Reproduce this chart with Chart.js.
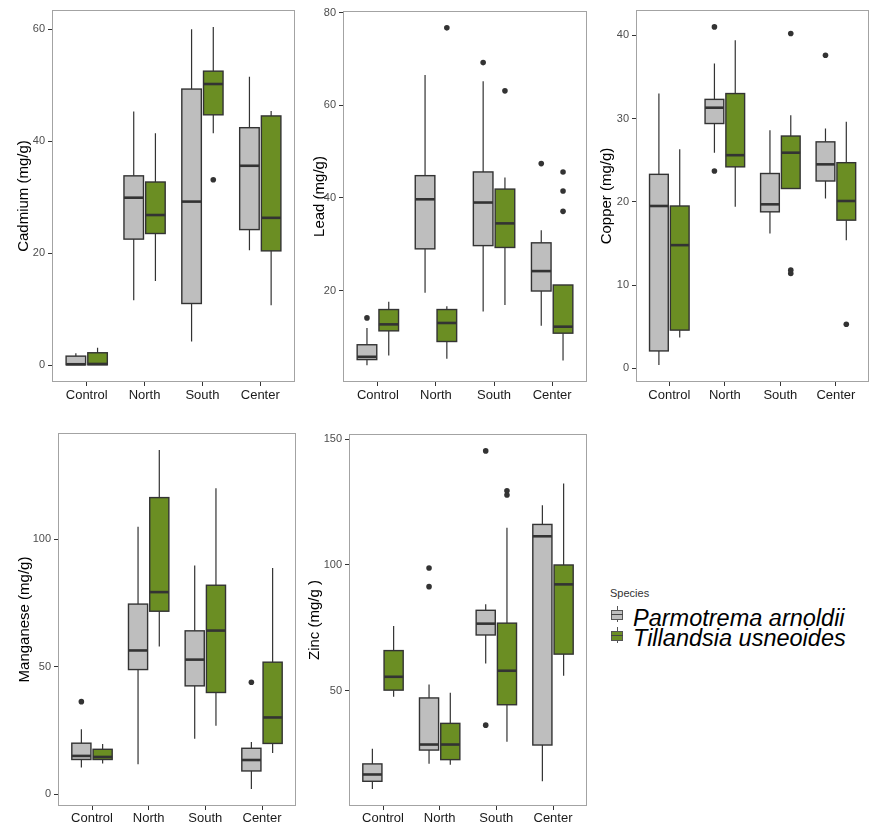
<!DOCTYPE html>
<html>
<head>
<meta charset="utf-8">
<script src="https://cdn.jsdelivr.net/npm/chart.js"></script>
<style>
  html, body { margin: 0; padding: 0; background: #ffffff; }
  #page { position: relative; width: 872px; height: 825px; background: #ffffff; overflow: hidden;
          font-family: 'Liberation Sans', Arial, sans-serif; }
  #page canvas { position: absolute; }
  .legend-title { position: absolute; left: 610px; top: 588px; font-size: 11px; line-height: 11px; color: #333333; }
  .legend-label { position: absolute; left: 633px; font-size: 23.5px; line-height: 23px; font-style: italic; color: #000000; white-space: nowrap; }
  .key { position: absolute; left: 611px; width: 12px; height: 16px; }
  .key .whisker { position: absolute; left: 5.5px; top: 0; width: 1px; height: 16px; background: #555555; }
  .key .box { position: absolute; left: 0; top: 3.5px; width: 10px; height: 8px; border: 1px solid #555555; }
  .key .median { position: absolute; left: 0; top: 7.5px; width: 12px; height: 1.2px; background: #444444; }
</style>
</head>
<body>
<div id="page">
  <canvas id="cadmium"></canvas>
  <canvas id="lead"></canvas>
  <canvas id="copper"></canvas>
  <canvas id="manganese"></canvas>
  <canvas id="zinc"></canvas>

  <div class="legend-title">Species</div>
  <div class="key" style="top:606px"><div class="whisker"></div><div class="box" style="background:#BEBEBE"></div><div class="median"></div></div>
  <div class="legend-label" style="top:607px">Parmotrema arnoldii</div>
  <div class="key" style="top:627px"><div class="whisker"></div><div class="box" style="background:#6B8E23"></div><div class="median"></div></div>
  <div class="legend-label" style="top:627px">Tillandsia usneoides</div>
</div>

<script>
// Sampling sites (x categories) and the two species
const categories = ['Control', 'North', 'South', 'Center'];
const speciesNames = ['Parmotrema arnoldii', 'Tillandsia usneoides'];

// Box statistics per site: [lower whisker, Q1, median, Q3, upper whisker]
const cadmiumParmotrema = [[0.0, 0.05, 0.15, 1.6, 2.1], [11.6, 22.5, 29.9, 33.8, 45.3], [4.2, 11.0, 29.2, 49.3, 60.0], [20.5, 24.2, 35.6, 42.4, 51.5]];
const cadmiumTillandsia = [[0.0, 0.05, 0.2, 2.2, 3.1], [15.0, 23.5, 26.8, 32.7, 41.4], [41.4, 44.7, 50.2, 52.5, 60.4], [10.7, 20.4, 26.3, 44.5, 45.4]];
const cadmiumParmotremaOut = [[], [], [], []];
const cadmiumTillandsiaOut = [[], [], [33.1], []];
const cadmiumTicks = [0, 20, 40, 60];

const leadParmotrema = [[3.9, 5.1, 5.7, 8.3, 11.9], [19.5, 29.0, 39.7, 44.8, 66.5], [15.5, 29.7, 39.0, 45.6, 65.2], [12.4, 19.9, 24.2, 30.3, 33.0]];
const leadTillandsia = [[6.0, 11.3, 12.7, 15.9, 17.6], [5.3, 9.0, 13.0, 15.9, 16.6], [16.9, 29.3, 34.5, 41.9, 44.4], [4.9, 10.8, 12.2, 21.2, 21.2]];
const leadParmotremaOut = [[14.1], [], [69.2], [47.4]];
const leadTillandsiaOut = [[], [76.7], [63.1], [45.6, 41.5, 37.1]];
const leadTicks = [20, 40, 60, 80];

const copperParmotrema = [[0.4, 2.1, 19.5, 23.3, 33.0], [25.9, 29.4, 31.3, 32.3, 36.6], [16.2, 18.8, 19.7, 23.4, 28.6], [20.4, 22.5, 24.5, 27.2, 28.8]];
const copperTillandsia = [[3.7, 4.6, 14.8, 19.5, 26.3], [19.4, 24.2, 25.6, 33.0, 39.4], [21.6, 21.6, 25.9, 27.9, 30.4], [15.4, 17.8, 20.1, 24.7, 29.6]];
const copperParmotremaOut = [[], [41.0, 23.7], [], [37.6]];
const copperTillandsiaOut = [[], [], [40.2, 11.8, 11.4], [5.3]];
const copperTicks = [0, 10, 20, 30, 40];

const manganeseParmotrema = [[10.5, 13.6, 15.0, 20.0, 25.5], [11.7, 48.9, 56.4, 74.6, 105.0], [21.7, 42.5, 52.8, 64.1, 89.7], [2.0, 9.1, 13.4, 18.0, 20.5]];
const manganeseTillandsia = [[12.0, 13.6, 14.6, 17.6, 19.7], [58.0, 71.8, 79.3, 116.4, 135.1], [26.8, 39.9, 64.2, 82.0, 120.1], [16.1, 19.9, 30.1, 51.8, 88.8]];
const manganeseParmotremaOut = [[36.3], [], [], [43.9]];
const manganeseTillandsiaOut = [[], [], [], []];
const manganeseTicks = [0, 50, 100];

const zincParmotrema = [[11.0, 14.1, 16.8, 21.0, 27.0], [21.1, 26.5, 28.7, 47.2, 52.5], [60.9, 72.2, 76.7, 82.0, 84.4], [14.1, 28.5, 111.4, 116.1, 123.7]];
const zincTillandsia = [[47.7, 50.3, 55.6, 66.0, 75.8], [20.7, 22.7, 28.7, 37.1, 49.3], [29.8, 44.5, 58.0, 76.9, 114.8], [56.0, 64.6, 92.3, 100.0, 132.4]];
const zincParmotremaOut = [[], [98.8, 91.4], [145.3, 36.4], []];
const zincTillandsiaOut = [[], [], [129.5, 127.8], []];
const zincTicks = [50, 100, 150];

// Styling
const FILLS = ['#BEBEBE', '#6B8E23'];
const LINE = '#333333';
const DODGE = 0.1875;      // half distance between the two boxes of a site (x units)
const BOX_WIDTH = 0.3375;  // box width (x units)

// Panel placement on the page
const panels = [
  { id: 'cadmium',   title: 'Cadmium (mg/g)', stats: [cadmiumParmotrema, cadmiumTillandsia], out: [cadmiumParmotremaOut, cadmiumTillandsiaOut], ticks: cadmiumTicks,
    left: 0,   top: 0,   width: 300, height: 410, axisW: 52, padTop: 10, padRight: 5, xH: 28, titlePad: 15, xPad: 2 },
  { id: 'lead',      title: 'Lead (mg/g)', stats: [leadParmotrema, leadTillandsia], out: [leadParmotremaOut, leadTillandsiaOut], ticks: leadTicks,
    left: 295, top: 0,   width: 297, height: 410, axisW: 48, padTop: 11, padRight: 5, xH: 28, titlePad: 16, xPad: 2 },
  { id: 'copper',    title: 'Copper (mg/g)', stats: [copperParmotrema, copperTillandsia], out: [copperParmotremaOut, copperTillandsiaOut], ticks: copperTicks,
    left: 588, top: 0,   width: 284, height: 410, axisW: 48, padTop: 10, padRight: 2, xH: 28, titlePad: 10, xPad: 2 },
  { id: 'manganese', title: 'Manganese (mg/g)', stats: [manganeseParmotrema, manganeseTillandsia], out: [manganeseParmotremaOut, manganeseTillandsiaOut], ticks: manganeseTicks,
    left: 0,   top: 420, width: 300, height: 405, axisW: 58, padTop: 13, padRight: 4, xH: 19, titlePad: 16, xPad: 1 },
  { id: 'zinc',      title: 'Zinc (mg/g )', stats: [zincParmotrema, zincTillandsia], out: [zincParmotremaOut, zincTillandsiaOut], ticks: zincTicks,
    left: 295, top: 420, width: 297, height: 405, axisW: 54, padTop: 14, padRight: 5, xH: 19, titlePad: 11, xPad: 1 }
];

Chart.defaults.font.family = "'Liberation Sans', Arial, sans-serif";

// Boxes, whiskers and medians drawn through the chart's scales; panel frame on top
const boxPlotPlugin = {
  id: 'boxPlot',
  beforeDatasetsDraw(chart) {
    const { ctx, scales: { x, y } } = chart;
    ctx.save();
    chart.data.datasets.forEach(ds => {
      ds.stats.forEach((s, i) => {
        const pos = i + 1 + ds.dodge;
        const cx = x.getPixelForValue(pos);
        const x0 = x.getPixelForValue(pos - BOX_WIDTH / 2);
        const x1 = x.getPixelForValue(pos + BOX_WIDTH / 2);
        const [lo, q1, med, q3, hi] = s.map(v => y.getPixelForValue(v));
        // whiskers
        ctx.strokeStyle = LINE;
        ctx.lineWidth = 1.2;
        ctx.beginPath();
        ctx.moveTo(cx, hi); ctx.lineTo(cx, q3);
        ctx.moveTo(cx, q1); ctx.lineTo(cx, lo);
        ctx.stroke();
        // box
        ctx.fillStyle = ds.boxColor;
        ctx.fillRect(x0, q3, x1 - x0, q1 - q3);
        ctx.lineWidth = 1.4;
        ctx.strokeRect(x0, q3, x1 - x0, q1 - q3);
        // median
        ctx.lineWidth = 2.6;
        ctx.beginPath();
        ctx.moveTo(x0, med); ctx.lineTo(x1, med);
        ctx.stroke();
      });
    });
    ctx.restore();
  },
  afterDraw(chart) {
    const { ctx, chartArea: a } = chart;
    ctx.save();
    ctx.strokeStyle = '#a3a3a3';
    ctx.lineWidth = 1;
    ctx.strokeRect(Math.round(a.left) + 0.5, Math.round(a.top) + 0.5,
                   Math.round(a.right - a.left) - 1, Math.round(a.bottom - a.top) - 1);
    ctx.restore();
  }
};

panels.forEach(p => {
  const canvas = document.getElementById(p.id);
  canvas.width = p.width;
  canvas.height = p.height;
  canvas.style.left = p.left + 'px';
  canvas.style.top = p.top + 'px';
  canvas.style.width = p.width + 'px';
  canvas.style.height = p.height + 'px';

  // y range: data extent plus 5% on both sides
  const all = [];
  p.stats.forEach(st => st.forEach(s => all.push(s[0], s[4])));
  p.out.forEach(o => o.forEach(list => list.forEach(v => all.push(v))));
  const dMin = Math.min(...all), dMax = Math.max(...all);
  const pad = (dMax - dMin) * 0.05;

  const datasets = [0, 1].map(k => ({
    type: 'scatter',
    label: speciesNames[k],
    stats: p.stats[k],
    dodge: k === 0 ? -DODGE : DODGE,
    boxColor: FILLS[k],
    data: p.out[k].flatMap((list, i) => list.map(v => ({ x: i + 1 + (k === 0 ? -DODGE : DODGE), y: v }))),
    pointRadius: 2.8,
    pointHoverRadius: 2.8,
    pointBackgroundColor: LINE,
    pointBorderWidth: 0,
    showLine: false
  }));

  new Chart(canvas, {
    type: 'scatter',
    data: { datasets },
    options: {
      responsive: false,
      animation: false,
      events: [],
      layout: { padding: { left: 0, top: p.padTop, right: p.padRight, bottom: 0 } },
      plugins: { legend: { display: false }, tooltip: { enabled: false } },
      scales: {
        x: {
          type: 'linear',
          min: 0.4,
          max: 4.6,
          afterBuildTicks: s => { s.ticks = categories.map((c, i) => ({ value: i + 1 })); },
          afterFit: s => { s.height = p.xH; },
          grid: { display: true, drawOnChartArea: false, drawTicks: true, tickLength: 4, tickColor: '#333333', color: '#333333' },
          border: { display: false },
          ticks: {
            callback: v => categories[Math.round(v) - 1],
            color: '#1a1a1a',
            font: { size: 13 },
            padding: p.xPad,
            maxRotation: 0,
            autoSkip: false
          }
        },
        y: {
          type: 'linear',
          min: dMin - pad,
          max: dMax + pad,
          afterBuildTicks: s => { s.ticks = p.ticks.map(v => ({ value: v })); },
          afterFit: s => { s.width = p.axisW; },
          grid: { display: true, drawOnChartArea: false, drawTicks: true, tickLength: 4, tickColor: '#333333', color: '#333333' },
          border: { display: false },
          ticks: { color: '#4d4d4d', font: { size: 11 }, padding: 3, autoSkip: false },
          title: { display: true, text: p.title, color: '#000000', font: { size: 15 }, padding: { top: p.titlePad, bottom: 0 } }
        }
      }
    },
    plugins: [boxPlotPlugin]
  });
});
</script>
</body>
</html>
